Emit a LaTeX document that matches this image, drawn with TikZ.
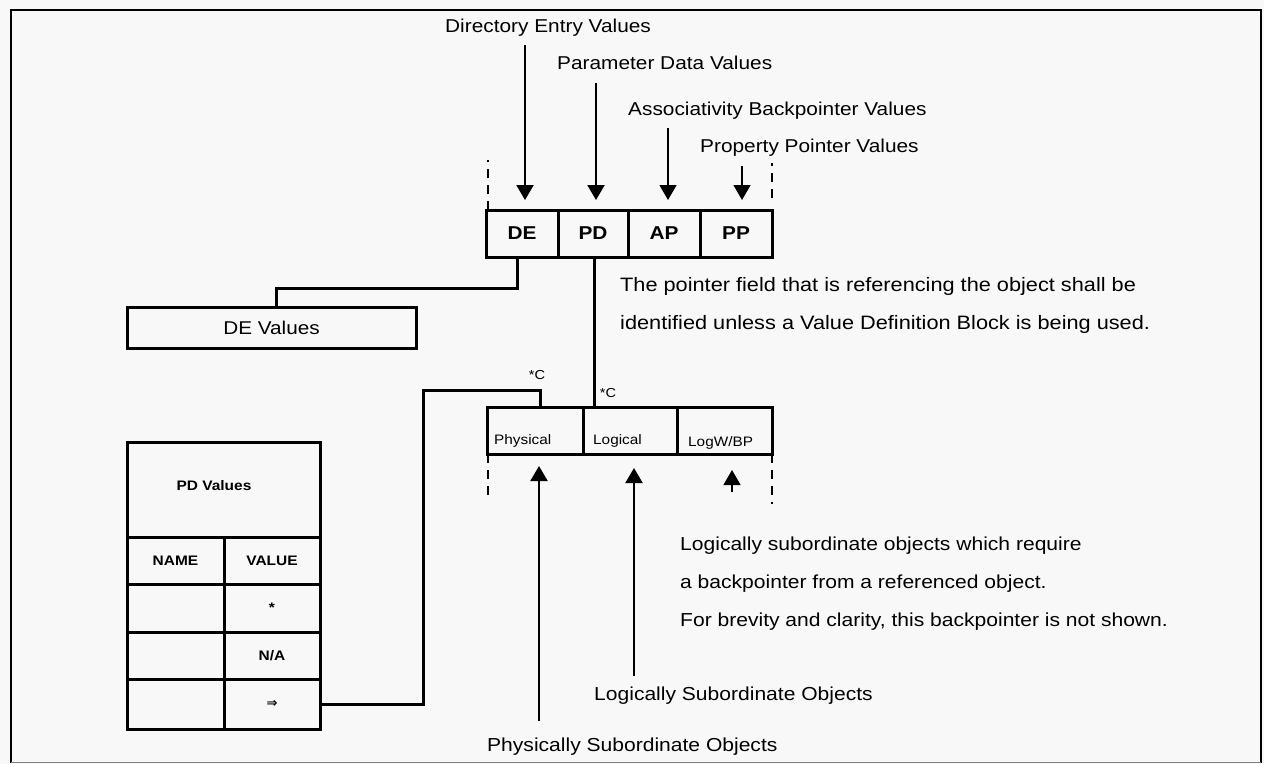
\documentclass[tikz,border=0pt]{standalone}
\usepackage{fontspec}
\setmainfont[FakeStretch=1.12]{Liberation Sans}
\newfontfamily\symfont{DejaVu Sans}
\usetikzlibrary{arrows.meta,calc}
\definecolor{paper}{RGB}{248,248,248}

\tikzset{
  cell/.style={draw, line width=3pt, inner sep=0pt, outer sep=0pt},
  reclbl/.style={font=\bfseries\fontsize{18.6}{22}\selectfont},
  tbllbl/.style={font=\bfseries\fontsize{13.8}{16}\selectfont},
  head/.style={inner sep=0pt, anchor=base west, font=\fontsize{18.6}{22}\selectfont},
  note/.style={inner sep=0pt, anchor=base west, font=\fontsize{19.4}{23}\selectfont},
  bpnote/.style={inner sep=0pt, anchor=base west, font=\fontsize{18.8}{22}\selectfont},
  sublbl/.style={inner sep=0pt, anchor=base west, font=\fontsize{18.8}{22}\selectfont},
  fieldlbl/.style={inner sep=0pt, anchor=base west, font=\fontsize{13.7}{16}\selectfont},
  cmark/.style={inner sep=0pt, font=\fontsize{13}{15}\selectfont},
  conn/.style={line width=3pt},
  arr/.style={line width=2.2pt, -{Triangle[width=17pt,length=15pt]}},
  arrthin/.style={line width=1.4pt, -{Triangle[width=17pt,length=15pt]}},
  dsh/.style={line width=2pt, dash pattern=on 9pt off 7pt},
}

\begin{document}
\begin{tikzpicture}[x=1pt,y=-1pt]
  % page and frame
  \fill[paper] (0,0) rectangle (1264,764);
  \useasboundingbox (0,0) rectangle (1264,764);
  \draw[line width=2.5pt] (11,763) -- (11,10) -- (1261,10) -- (1261,763);
  \draw[gray, line width=1.5pt] (11,762.5) -- (1261,762.5);

  % value headings
  \node[head] (dirlbl) at (445,32)  {Directory Entry Values};
  \node[head] (parlbl) at (557,69)  {Parameter Data Values};
  \node[head] (asslbl) at (628,115) {Associativity Backpointer Values};
  \node[head] (prplbl) at (700,152) {Property Pointer Values};

  % entity record: pointer fields
  \node[cell, reclbl, minimum width=72pt, minimum height=47pt] (de) at (522,233.5) {DE};
  \node[cell, reclbl, minimum width=70pt, minimum height=47pt] (pd) at (593,233.5) {PD};
  \node[cell, reclbl, minimum width=72pt, minimum height=47pt] (ap) at (664,233.5) {AP};
  \node[cell, reclbl, minimum width=72pt, minimum height=47pt] (pp) at (736,233.5) {PP};

  % arrows from headings into the fields
  \draw[arr] ($(dirlbl.south -| de.north)+(3,9)$) -- ($(de.north)+(3,-10)$);
  \draw[arr] ($(parlbl.south -| pd.north)+(3,14)$) -- ($(pd.north)+(3,-10)$);
  \draw[arrthin] ($(asslbl.south -| ap.north)+(4,9)$) -- ($(ap.north)+(4,-10)$);
  \draw[arrthin] ($(prplbl.south -| pp.north)+(6,10)$) -- ($(pp.north)+(6,-10)$);

  % dashed continuation marks of the record
  \draw[dsh] ($(de.north west)+(2,0)$) -- ++(0,-50);
  \draw[dsh] ($(pp.north east)+(0,-12)$) -- ++(0,-35);

  % directory entry values
  \node[cell, minimum width=289pt, minimum height=41pt,
        font=\fontsize{18.5}{22}\selectfont] (devals) at (271.5,327.5) {DE Values};
  \draw[conn] ($(de.south)+(-5,0)$) -- ++(0,31) -| ($(devals.north)+(4.5,0)$);

  % note on the pointer field
  \node[note] (note1) at (620,291) {The pointer field that is referencing the object shall be};
  \node[note] (note2) at (620,329) {identified unless a Value Definition Block is being used.};

  % subordinate record
  \node[cell, minimum width=96pt, minimum height=47pt] (phys) at (535,430.5) {};
  \node[cell, minimum width=94pt, minimum height=47pt] (logi) at (630,430.5) {};
  \node[cell, minimum width=95pt, minimum height=47pt] (lwb)  at (724.5,430.5) {};
  \node[fieldlbl] (physt) at ($(phys.west)+(7,13.5)$) {Physical};
  \node[fieldlbl] (logit) at ($(logi.west)+(10,13.5)$) {Logical};
  \node[fieldlbl] (lwbt)  at ($(lwb.west)+(11,15.5)$) {LogW/BP};

  \draw[conn] ($(pd.south)+(1,0)$) -- ($(pd.south |- logi.north)+(1,0)$);
  \node[cmark] (c1) at (608,393) {*C};

  \draw[dsh] ($(phys.south west)+(1,0)$) -- ++(0,43);
  \draw[dsh] (lwb.south east) -- ++(0,50);

  % parameter data table
  \node[cell, minimum width=193pt, minimum height=95pt] (pdhead) at (223.5,489.5) {};
  \node[tbllbl, inner sep=0pt] (pdhdt) at (214,486) {PD Values};
  \node[cell, tbllbl, minimum width=97pt, minimum height=47pt] (nm1) at (175.5,560.5) {NAME};
  \node[cell, tbllbl, minimum width=96pt, minimum height=47pt] (vl1) at (272,560.5) {VALUE};
  \node[cell, tbllbl, minimum width=97pt, minimum height=48pt] (nm2) at (175.5,608) {};
  \node[cell, tbllbl, minimum width=96pt, minimum height=48pt] (vl2) at (272,608) {*};
  \node[cell, tbllbl, minimum width=97pt, minimum height=47pt] (nm3) at (175.5,655.5) {};
  \node[cell, tbllbl, minimum width=96pt, minimum height=47pt] (vl3) at (272,655.5) {N/A};
  \node[cell, tbllbl, minimum width=97pt, minimum height=50pt] (nm4) at (175.5,704) {};
  \node[cell, minimum width=96pt, minimum height=50pt,
        font=\symfont\bfseries\fontsize{13}{15}\selectfont] (vl4) at (272,704) {⇒};

  \draw[conn] (vl4.east) -- ++(103,0) |- ($(phys.north)+(5,-17)$) -- ($(phys.north)+(5,0)$);
  \node[cmark] (c2) at (537,375) {*C};

  % subordinate object labels and arrows
  \node[sublbl] (logsub)  at (594,700) {Logically Subordinate Objects};
  \node[sublbl] (physsub) at (487,751) {Physically Subordinate Objects};
  \draw[arr] ($(physsub.north -| phys.south)+(4,-16)$) -- ($(phys.south)+(4,12)$);
  \draw[arr] ($(logsub.north -| logi.south)+(4,-10)$) -- ($(logi.south)+(4,14)$);
  \draw[arrthin] ($(lwb.south)+(7.5,38)$) -- ($(lwb.south)+(7.5,16)$);

  % note on backpointers
  \node[bpnote] (bp1) at (680,550) {Logically subordinate objects which require};
  \node[bpnote] (bp2) at (680,588) {a backpointer from a referenced object.};
  \node[bpnote] (bp3) at (680,626) {For brevity and clarity, this backpointer is not shown.};
\end{tikzpicture}
\end{document}
